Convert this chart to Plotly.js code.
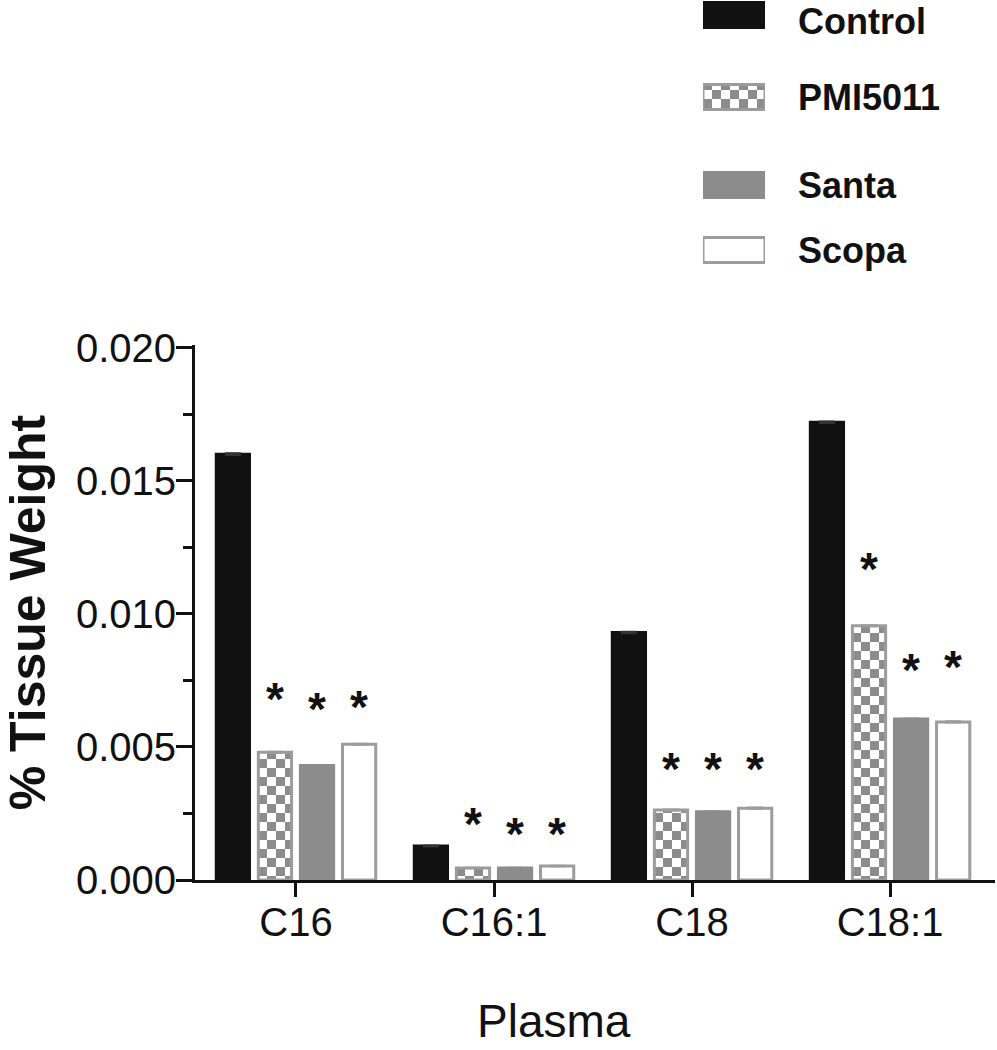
<!DOCTYPE html>
<html><head><meta charset="utf-8">
<script src="https://cdn.plot.ly/plotly-3.0.1.min.js"></script>
<style>body{margin:0;background:#fff}</style></head>
<body><div id="chart" style="width:997px;height:1050px"></div>
<script>
// ---- data ----
const categories = ['C16', 'C16:1', 'C18', 'C18:1'];
const seriesNames = ['Control', 'PMI5011', 'Santa', 'Scopa'];
const controlValues = [0.0160, 0.00128, 0.0093, 0.0172];
const pmiValues     = [0.0048, 0.00045, 0.00263, 0.00955];
const santaValues   = [0.0043, 0.00045, 0.00256, 0.00605];
const scopaValues   = [0.0051, 0.00053, 0.0027, 0.00594];
const controlErr = [0.00003, 0.00002, 0.00003, 0.00003];
const pmiErr     = [0.00002, 0.00001, 0.00002, 0.00002];
const santaErr   = [0.00002, 0.00001, 0.00002, 0.00002];
const scopaErr   = [0.00002, 0.00001, 0.00002, 0.00002];
// significance marker heights (asterisk centres)
const pmiStars   = [0.00726, 0.00256, 0.00462, 0.01214];
const santaStars = [0.00688, 0.00218, 0.00462, 0.00835];
const scopaStars = [0.00695, 0.00218, 0.00462, 0.00846];
const yTickVals = [0, 0.005, 0.010, 0.015, 0.020];
const yTickText = ['0.000', '0.005', '0.010', '0.015', '0.020'];
const xTitle = 'Plasma';
const yTitle = '% Tissue Weight';

// ---- style / layout constants ----
const FONT = 'Liberation Sans, Arial, sans-serif';
const INK = '#111111';
const GRAY = '#8c8c8c';
const LGRAY = '#9c9c9c';
const W = 997, H = 1050;
const M = {l: 195, r: 2, t: 0, b: 170, pad: 0, autoexpand: false};
const plotW = W - M.l - M.r, plotH = H - M.t - M.b;
const X_RANGE = [-0.51, 3.53];
const Y_RANGE = [0, 0.0201];
const yDomTop = 535 / plotH;
const BARGAP = 0.15, BARGROUPGAP = 0.21;
const slotPx = plotW / (X_RANGE[1] - X_RANGE[0]) * (1 - BARGAP) / 4;
const STAR_SIZE = 46;

const styles = [
  {color: INK, line: INK},
  {color: '#ffffff', line: LGRAY, pattern: {shape: '+', fgcolor: GRAY, bgcolor: '#ffffff', size: 18, solidity: 0.5}},
  {color: GRAY, line: GRAY},
  {color: '#ffffff', line: LGRAY}
];
const valueSets = [controlValues, pmiValues, santaValues, scopaValues];
const errSets = [controlErr, pmiErr, santaErr, scopaErr];

const traces = valueSets.map((vals, k) => {
  const st = styles[k];
  const marker = {color: st.color, line: {color: st.line, width: 3}};
  if (st.pattern) marker.pattern = st.pattern;
  return {
    type: 'bar', name: seriesNames[k], x: categories, y: vals,
    xaxis: 'x', yaxis: 'y', marker: marker, showlegend: false,
    error_y: {type: 'data', array: errSets[k], visible: true, color: k === 0 ? '#333' : st.line, thickness: 2, width: 8},
    hoverinfo: 'x+y+name'
  };
});

// custom legend (swatches drawn as bars on an overlay axis; positions in px of that overlay)
const legendY = [15, 97, 185, 250];
const legendTextY = [21, 97, 185, 250];
traces.push({
  type: 'bar', orientation: 'h', x: [1, 1, 1, 1], y: legendY, width: 25,
  xaxis: 'x2', yaxis: 'y2', showlegend: false, hoverinfo: 'skip',
  marker: {
    color: styles.map(s => s.color),
    line: {color: styles.map(s => s.line), width: 3},
    pattern: {shape: ['', '+', '', ''], fgcolor: GRAY, bgcolor: '#ffffff', size: 18, solidity: 0.5}
  }
});

const annotations = [];
const starSets = [null, pmiStars, santaStars, scopaStars];
starSets.forEach((stars, k) => {
  if (!stars) return;
  stars.forEach((v, i) => {
    annotations.push({
      x: categories[i], y: v, xref: 'x', yref: 'y', text: '*', showarrow: false,
      xshift: (k - 1.5) * slotPx, yshift: -STAR_SIZE * 0.27,
      font: {family: FONT, size: STAR_SIZE, color: INK, weight: 'bold'},
      xanchor: 'center', yanchor: 'middle'
    });
  });
});
seriesNames.forEach((nm, k) => {
  annotations.push({
    x: (796 - M.l) / plotW, xref: 'paper', y: legendTextY[k], yref: 'y2',
    text: '<b>' + nm + '</b>', showarrow: false, xanchor: 'left', yanchor: 'middle',
    font: {family: FONT, size: 36, color: INK}
  });
});
annotations.push({
  x: (554 - M.l) / plotW, xref: 'paper', y: (plotH - 1049) / plotH, yref: 'paper',
  text: xTitle, showarrow: false, xanchor: 'center', yanchor: 'bottom',
  font: {family: FONT, size: 46, color: INK}
});

const layout = {
  width: W, height: H, margin: M,
  paper_bgcolor: '#ffffff', plot_bgcolor: 'rgba(0,0,0,0)',
  barmode: 'group', bargap: BARGAP, bargroupgap: BARGROUPGAP,
  font: {family: FONT, color: INK},
  xaxis: {
    type: 'category', categoryorder: 'array', categoryarray: categories,
    range: X_RANGE, domain: [0, 1], anchor: 'y',
    showline: true, linewidth: 3, linecolor: INK, mirror: false,
    ticks: 'outside', ticklen: 14, tickwidth: 3, tickcolor: INK,
    ticklabelstandoff: -9,
    tickfont: {family: FONT, size: 40, color: INK},
    showgrid: false, zeroline: false, fixedrange: true, automargin: false
  },
  yaxis: {
    range: Y_RANGE, domain: [0, yDomTop], anchor: 'x',
    tickvals: yTickVals, ticktext: yTickText,
    showline: true, linewidth: 3, linecolor: INK,
    ticks: 'outside', ticklen: 16, tickwidth: 3, tickcolor: INK,
    ticklabelstandoff: -8,
    tickfont: {family: FONT, size: 40, color: INK},
    minor: {tickvals: [0.0025, 0.0075, 0.0125, 0.0175], ticks: 'outside', ticklen: 9, tickwidth: 3, tickcolor: INK},
    showgrid: false, zeroline: false, fixedrange: true,
    title: {text: '<b>' + yTitle + '</b>', font: {family: FONT, size: 50, color: INK}, standoff: 20},
    automargin: true
  },
  xaxis2: {domain: [(703 - M.l) / plotW, (765 - M.l) / plotW], range: [0, 1], visible: false, anchor: 'y2', fixedrange: true},
  yaxis2: {domain: [1 - 264 / plotH, 1], range: [264, 0], visible: false, anchor: 'x2', fixedrange: true},
  annotations: annotations,
  showlegend: false
};

function checker() {
  const NS = 'http://www.w3.org/2000/svg';
  document.querySelectorAll('#chart pattern').forEach(p => {
    p.setAttribute('width', 18); p.setAttribute('height', 18);
    p.removeAttribute('patternTransform');
    while (p.firstChild) p.removeChild(p.firstChild);
    [[0, 0, 18, 18, GRAY], [0, 0, 9, 9, '#ffffff'], [9, 9, 9, 9, '#ffffff']].forEach(r => {
      const e = document.createElementNS(NS, 'rect');
      e.setAttribute('x', r[0]); e.setAttribute('y', r[1]);
      e.setAttribute('width', r[2]); e.setAttribute('height', r[3]);
      e.setAttribute('fill', r[4]);
      p.appendChild(e);
    });
  });
}

const gd = document.getElementById('chart');
Plotly.newPlot(gd, traces, layout, {displayModeBar: false, staticPlot: true}).then(() => {
  checker();
  gd.on && gd.on('plotly_afterplot', checker);
});
</script>
</body></html>
